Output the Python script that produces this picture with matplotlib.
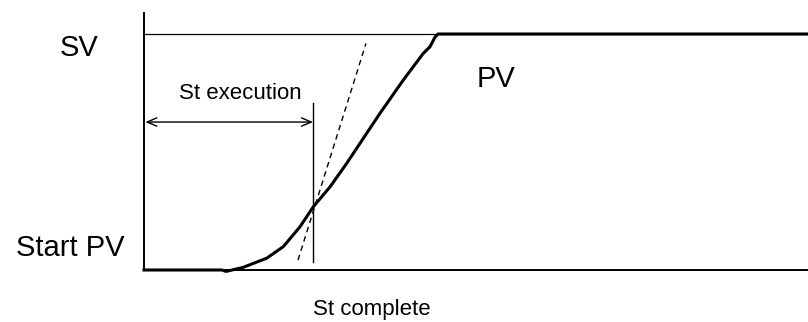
import numpy as np
import matplotlib
matplotlib.use("Agg")
import matplotlib.pyplot as plt

plt.rcParams['font.family'] = ['Liberation Sans', 'DejaVu Sans']

# PV 响应曲线 (时间, 归一化 PV: 0 = Start PV, 1 = SV)
pv_t = [0.0, 1.175, 1.235, 1.491, 1.848, 2.098, 2.349, 2.550, 2.801, 3.053,
        3.554, 3.905, 4.206, 4.307, 4.383, 4.428, 10.0]
pv_y = [0.0, 0.0, -0.006, 0.011, 0.050, 0.099, 0.183, 0.268, 0.352, 0.452,
        0.664, 0.805, 0.918, 0.946, 0.987, 1.0, 1.0]

# 切线 (虚线)
tan_t = [2.319, 3.343]
tan_y = [0.042, 0.960]

# 自整定完成时刻
st_done_t = 2.545
st_done_y = [0.034, 0.708]
arrow_y = 0.627

fig = plt.figure(figsize=(8.08, 3.22), dpi=100)
ax = fig.add_axes([144/808, 1 - 270/322, 1 - 144/808, (270 - 13)/322])
ax.set_xlim(0, 10)
ax.set_ylim(0, 257/236)
for s in ['top', 'right', 'bottom']:
    ax.spines[s].set_visible(False)
ax.spines['left'].set_linewidth(1.4)
ax.set_xticks([])
ax.set_yticks([])

ax.axhline(1.0, color='black', lw=0.9)
ax.axhline(0.0, color='black', lw=1.4, clip_on=False)

ax.plot(pv_t, pv_y, color='black', lw=2.2, solid_joinstyle='round', clip_on=False)
ax.plot(tan_t, tan_y, color='black', lw=1.0, ls=(0, (4, 3)))
ax.plot([st_done_t, st_done_t], st_done_y, color='black', lw=1.0)

ax.annotate('', xy=(0.02, arrow_y), xytext=(st_done_t, arrow_y),
            arrowprops=dict(arrowstyle='<->,head_length=0.7,head_width=0.3',
                            color='black', lw=1.0, shrinkA=0, shrinkB=0))

ax.text(-0.979, 0.94, 'SV', fontsize=21, ha='center', va='center', clip_on=False)
ax.text(-1.114, 0.093, 'Start PV', fontsize=21, ha='center', va='center', clip_on=False)
ax.text(5.30, 0.81, 'PV', fontsize=21, ha='center', va='center')
ax.text(1.446, 0.746, 'St execution', fontsize=16, ha='center', va='center')
ax.text(3.43, -0.169, 'St complete', fontsize=16, ha='center', va='center', clip_on=False)

fig.savefig('out.png', dpi=100)
